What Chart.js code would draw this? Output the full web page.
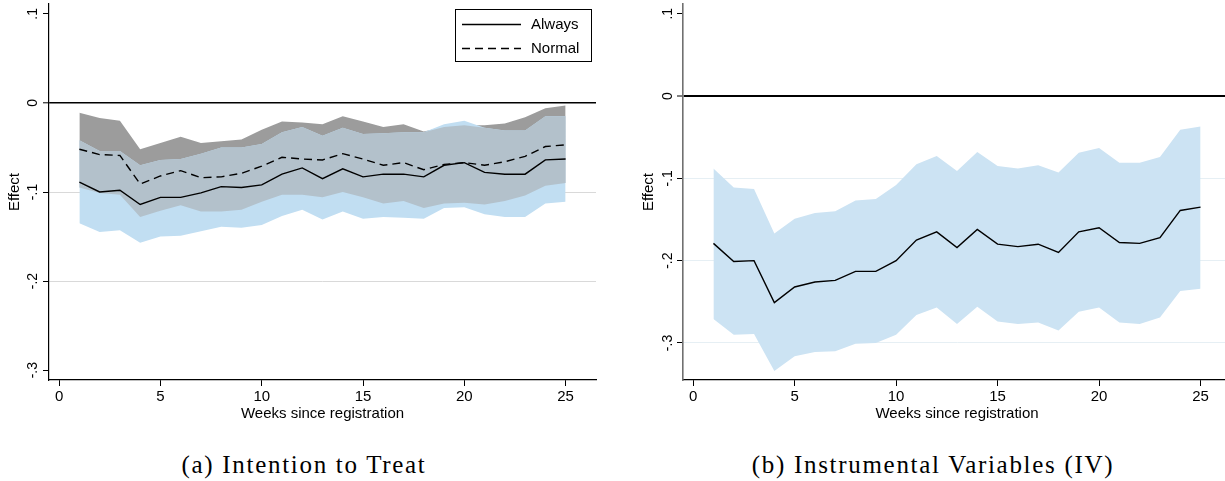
<!DOCTYPE html>
<html lang="en">
<head>
  <meta charset="UTF-8">
  <title>Effect by weeks since registration</title>
  <script src="https://cdn.jsdelivr.net/npm/chart.js"></script>
  <style>
    html, body { margin: 0; padding: 0; background: #fff; overflow: hidden; width: 1225px; height: 481px; }
    .panel { position: absolute; top: 0; }
    /* subfigure captions under each panel */
    .caption {
      position: absolute;
      top: 450px;
      font-family: "Liberation Serif", "Times New Roman", serif;
      font-size: 25px;
      line-height: 30px;
      letter-spacing: 1.7px;
      white-space: nowrap;
      transform: translateX(-50%);
      color: #000;
    }
  </style>
</head>
<body>
  <canvas id="ittChart" class="panel" width="612" height="430" style="left:0"></canvas>
  <canvas id="ivChart" class="panel" width="612" height="430" style="left:634px"></canvas>
  <div class="caption" style="left:304px">(a) Intention to Treat</div>
  <div class="caption" style="left:933px">(b) Instrumental Variables (IV)</div>

  <script>
    // weeks since registration
    const weeks = [1, 2, 3, 4, 5, 6, 7, 8, 9, 10, 11, 12, 13, 14, 15, 16, 17, 18, 19, 20, 21, 22, 23, 24, 25];

    // (a) intention to treat: point estimates and 95% bands
    const ittAlways = [-0.089, -0.100, -0.098, -0.114, -0.106, -0.106, -0.101, -0.094, -0.095, -0.092, -0.080, -0.073, -0.085,
                       -0.074, -0.083, -0.080, -0.080, -0.083, -0.070, -0.067, -0.078, -0.080, -0.080, -0.064, -0.063];
    const ittAlwaysHi = [-0.042, -0.054, -0.054, -0.070, -0.064, -0.063, -0.057, -0.050, -0.050, -0.046, -0.033, -0.027, -0.037,
                         -0.028, -0.035, -0.034, -0.033, -0.033, -0.024, -0.020, -0.028, -0.031, -0.031, -0.015, -0.015];
    const ittAlwaysLo = [-0.135, -0.145, -0.143, -0.157, -0.150, -0.149, -0.144, -0.139, -0.140, -0.137, -0.127, -0.120, -0.131,
                         -0.122, -0.130, -0.128, -0.129, -0.130, -0.118, -0.117, -0.125, -0.128, -0.128, -0.113, -0.111];

    const ittNormal = [-0.052, -0.058, -0.059, -0.091, -0.082, -0.076, -0.084, -0.083, -0.079, -0.071, -0.061, -0.063, -0.064,
                       -0.057, -0.063, -0.070, -0.067, -0.075, -0.069, -0.067, -0.070, -0.066, -0.060, -0.049, -0.047];
    const ittNormalHi = [-0.011, -0.017, -0.020, -0.052, -0.045, -0.038, -0.045, -0.043, -0.041, -0.030, -0.021, -0.022, -0.024,
                         -0.015, -0.021, -0.027, -0.024, -0.032, -0.027, -0.025, -0.025, -0.023, -0.016, -0.006, -0.003];
    const ittNormalLo = [-0.095, -0.101, -0.103, -0.128, -0.121, -0.115, -0.122, -0.122, -0.120, -0.111, -0.103, -0.103, -0.106,
                         -0.100, -0.106, -0.113, -0.110, -0.118, -0.113, -0.112, -0.114, -0.110, -0.104, -0.093, -0.090];

    // (b) instrumental variables
    const ivEffect = [-0.179, -0.201, -0.200, -0.251, -0.232, -0.226, -0.224, -0.213, -0.213, -0.200, -0.175, -0.165, -0.184,
                      -0.162, -0.180, -0.183, -0.180, -0.190, -0.165, -0.160, -0.178, -0.179, -0.172, -0.139, -0.135];
    const ivHi = [-0.088, -0.111, -0.113, -0.167, -0.149, -0.142, -0.140, -0.127, -0.125, -0.108, -0.083, -0.073, -0.091,
                  -0.068, -0.085, -0.088, -0.084, -0.093, -0.069, -0.063, -0.081, -0.081, -0.074, -0.041, -0.037];
    const ivLo = [-0.271, -0.290, -0.289, -0.334, -0.316, -0.311, -0.310, -0.301, -0.300, -0.290, -0.266, -0.257, -0.277,
                  -0.256, -0.274, -0.277, -0.275, -0.285, -0.262, -0.257, -0.275, -0.277, -0.269, -0.237, -0.234];

    // axis ticks
    const xTicks = [0, 5, 10, 15, 20, 25];
    const yTicks = [0.1, 0, -0.1, -0.2, -0.3];
    const yTickLabels = ['.1', '0', '-.1', '-.2', '-.3'];

    const FONT = '"Liberation Sans", Arial, Helvetica, sans-serif';
    Chart.defaults.font.family = FONT;
    Chart.defaults.color = '#000';

    const pts = (ys) => weeks.map((w, i) => ({ x: w, y: ys[i] }));
    const clear = 'rgba(0,0,0,0)';

    // lower edge + upper edge filled down to it
    function band(hi, lo, color, order) {
      const edge = { borderColor: clear, borderWidth: 0, pointRadius: 0, order: order };
      return [
        Object.assign({ data: pts(lo), fill: false }, edge),
        Object.assign({ data: pts(hi), fill: '-1', backgroundColor: color }, edge)
      ];
    }

    function estimate(label, ys, dash) {
      return {
        label: label, data: pts(ys), borderColor: '#000', borderWidth: 1.4, borderDash: dash,
        pointRadius: 0, fill: false, order: 1
      };
    }

    // y tick labels drawn rotated, reading upward
    const rotatedYLabels = {
      id: 'rotatedYLabels',
      afterDraw(chart, args, opts) {
        const { ctx } = chart;
        const y = chart.scales.y;
        ctx.save();
        ctx.font = '14px ' + FONT;
        ctx.fillStyle = '#000';
        ctx.textAlign = 'center';
        ctx.textBaseline = 'alphabetic';
        yTicks.forEach((v, i) => {
          ctx.save();
          ctx.translate(y.right - opts.offset, y.getPixelForValue(v));
          ctx.rotate(-Math.PI / 2);
          ctx.fillText(yTickLabels[i], 0, 0);
          ctx.restore();
        });
        ctx.restore();
      }
    };

    // boxed legend in the upper right of the plot
    const boxLegend = {
      id: 'boxLegend',
      afterDraw(chart, args, opts) {
        if (!opts.show) return;
        const { ctx } = chart;
        const items = chart.data.datasets.filter(d => d.label);
        ctx.save();
        ctx.fillStyle = '#fff';
        ctx.fillRect(opts.left, opts.top, opts.width, opts.height);
        ctx.strokeStyle = '#000';
        ctx.lineWidth = 1;
        ctx.strokeRect(opts.left + 0.5, opts.top + 0.5, opts.width, opts.height);
        items.forEach((d, i) => {
          const yy = opts.top + opts.firstRow + i * opts.rowGap;
          ctx.setLineDash(d.borderDash || []);
          ctx.lineWidth = d.borderWidth;
          ctx.strokeStyle = d.borderColor;
          ctx.beginPath();
          ctx.moveTo(opts.left + 7, yy);
          ctx.lineTo(opts.left + 66, yy);
          ctx.stroke();
          ctx.setLineDash([]);
          ctx.fillStyle = '#000';
          ctx.font = '15px ' + FONT;
          ctx.textBaseline = 'middle';
          ctx.textAlign = 'left';
          ctx.fillText(d.label, opts.left + 76, yy);
        });
        ctx.restore();
      }
    };

    function makeOptions(o) {
      return {
        responsive: false,
        animation: false,
        layout: { padding: { top: 4, right: o.padRight, left: 0, bottom: 0 } },
        plugins: {
          legend: { display: false },
          tooltip: { enabled: false },
          rotatedYLabels: { offset: o.labelOffset },
          boxLegend: o.legend
        },
        scales: {
          x: {
            type: 'linear', min: -0.5, max: 26.5,
            afterBuildTicks: (s) => { s.ticks = xTicks.map(v => ({ value: v })); },
            afterFit: (s) => { s.height = 50; },
            ticks: { font: { size: 15 }, padding: 2, color: '#000' },
            grid: { drawOnChartArea: false, tickLength: 6, tickColor: '#000', tickWidth: 1 },
            border: { color: '#000', width: 1.2 },
            title: { display: true, text: 'Weeks since registration', font: { size: 15 }, padding: { top: 0, bottom: 7 } }
          },
          y: {
            type: 'linear', min: o.yMin, max: o.yMax,
            afterBuildTicks: (s) => { s.ticks = yTicks.map(v => ({ value: v })); },
            afterFit: (s) => { s.width = 49; },
            ticks: { display: false },
            grid: {
              color: (c) => c.tick.value === 0 ? '#000' : (o.gridAt.includes(c.tick.value) ? o.gridColor : clear),
              lineWidth: (c) => c.tick.value === 0 ? o.zeroWidth : 1,
              tickLength: 6, tickColor: '#000', tickWidth: 1
            },
            border: { color: o.yAxisColor, width: o.yAxisWidth },
            title: { display: true, text: 'Effect', font: { size: 15 }, padding: { top: 5.5, bottom: 0 } }
          }
        }
      };
    }

    // (a) both groups; overlap of the two bands gets its own shade
    const overlapHi = ittAlwaysHi.map((v, i) => Math.min(v, ittNormalHi[i]));
    const overlapLo = ittAlwaysLo.map((v, i) => Math.max(v, ittNormalLo[i]));

    new Chart(document.getElementById('ittChart'), {
      type: 'line',
      data: {
        datasets: [
          estimate('Always', ittAlways, []),
          estimate('Normal', ittNormal, [8, 5]),
          ...band(ittNormalHi, ittNormalLo, '#9c9c9c', 10),
          ...band(ittAlwaysHi, ittAlwaysLo, '#c1def2', 9),
          ...band(overlapHi, overlapLo, '#b3c1cb', 8)
        ]
      },
      options: makeOptions({
        padRight: 16, yMin: -0.311, yMax: 0.111, labelOffset: 12,
        gridAt: [-0.1, -0.2], gridColor: '#d9d9d9', zeroWidth: 1.6,
        yAxisColor: '#000', yAxisWidth: 1.2,
        legend: { show: true, left: 455, top: 9, width: 136, height: 52, firstRow: 15.5, rowGap: 24 }
      }),
      plugins: [rotatedYLabels, boxLegend]
    });

    // (b) IV estimate
    new Chart(document.getElementById('ivChart'), {
      type: 'line',
      data: {
        datasets: [
          estimate('', ivEffect, []),
          ...band(ivHi, ivLo, '#cce3f3', 10)
        ]
      },
      options: makeOptions({
        padRight: 15, yMin: -0.345, yMax: 0.1118, labelOffset: 11,
        gridAt: [-0.1, -0.2, -0.3], gridColor: '#e6eff4', zeroWidth: 2,
        yAxisColor: '#707070', yAxisWidth: 1.6,
        legend: { show: false }
      }),
      plugins: [rotatedYLabels, boxLegend]
    });
  </script>
</body>
</html>
